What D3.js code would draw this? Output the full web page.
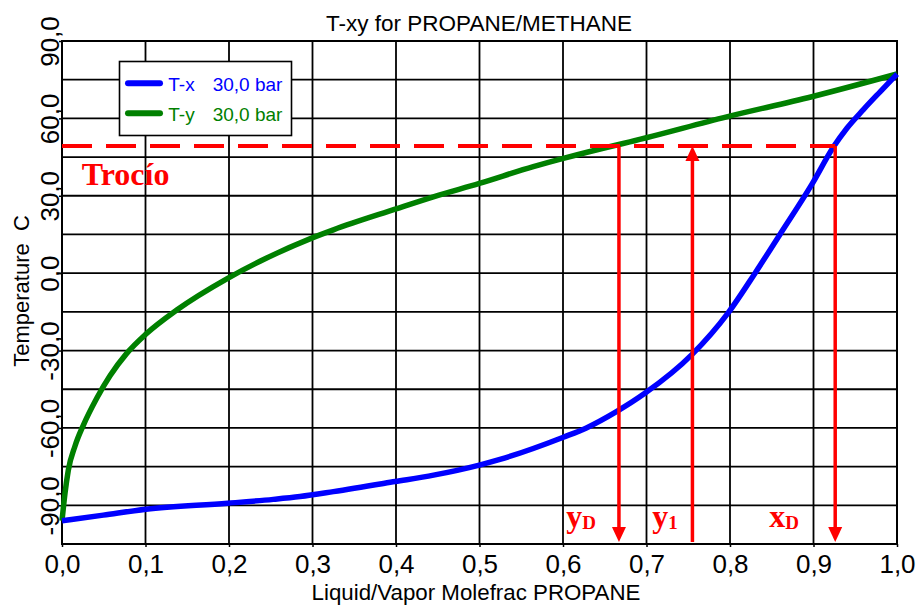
<!DOCTYPE html>
<html>
<head>
<meta charset="utf-8">
<script src="https://cdn.jsdelivr.net/npm/d3@7"></script>
<style>
  html, body { margin: 0; padding: 0; background: #fff; }
  svg { display: block; }
</style>
</head>
<body>
<svg id="chart" width="916" height="605"></svg>
<script>
// ---------- data ----------
const chartTitle = "T-xy for PROPANE/METHANE";
const xAxisTitle = "Liquid/Vapor Molefrac PROPANE";
const yAxisTitle = "Temperature  C";

const xTickValues = [0, 0.1, 0.2, 0.3, 0.4, 0.5, 0.6, 0.7, 0.8, 0.9, 1.0];
const yGridValues = [-105, -90, -75, -60, -45, -30, -15, 0, 15, 30, 45, 60, 75, 90];
const yTickValues = [-90, -60, -30, 0, 30, 60, 90];

// T-x (bubble curve, liquid)
const txX = [0, 0.0495, 0.1006, 0.1984, 0.253, 0.285, 0.325, 0.399, 0.445, 0.4998, 0.5245, 0.6004, 0.628, 0.664, 0.698, 0.754, 0.798, 0.830, 0.860, 0.898, 0.924, 0.94, 0.96, 0.98, 1.0];
const txT = [-96.0, -93.8, -91.5, -89.2, -87.7, -86.6, -84.7, -80.8, -78.3, -74.4, -72.2, -63.6, -60.0, -53.7, -46.6, -31.7, -15.3, 0.0, 15.1, 34.4, 49.0, 56.2, 63.5, 70.4, 77.2];

// T-y (dew curve, vapor)
const tyX = [0, 0.0036, 0.0075, 0.0156, 0.0255, 0.0416, 0.0575, 0.0775, 0.1006, 0.1374, 0.1984, 0.2371, 0.299, 0.325, 0.399, 0.4447, 0.4998, 0.5644, 0.6004, 0.6643, 0.680, 0.796, 0.898, 1.0];
const tyT = [-96.0, -85.3, -76.5, -67.0, -59.0, -48.5, -39.8, -31.1, -23.6, -14.3, -2.0, 4.6, 13.6, 16.8, 24.8, 29.6, 34.8, 41.3, 44.5, 49.7, 50.9, 60.6, 68.4, 77.2];

const legendNames = ["T-x", "T-y"];
const legendPressure = ["30,0 bar", "30,0 bar"];

// annotations (data units)
const dewTemp = 49.3;
const markerX = [0.667, 0.755, 0.926];
const markerDir = ["down", "up", "down"];
const labelMain = ["y", "y", "x"];
const labelSub = ["D", "1", "D"];
const labelX = [0.604, 0.707, 0.847];
const labelT = -98.3;
const dewLabel = "Trocío";
const dewLabelX = 0.0236;
const dewLabelT = 34.2;

// ---------- layout ----------
const svg = d3.select("#chart");
const L = 62, R = 897, T = 41, B = 544;
const x = d3.scaleLinear().domain([0, 1]).range([L, R]);
const y = d3.scaleLinear().domain([-105, 90]).range([B, T]);
const fmt = v => d3.format(".1f")(v).replace(".", ",").replace("−", "-");

const SANS = "'Liberation Sans', Arial, Helvetica, sans-serif";
const SERIF = "'Liberation Serif', 'Times New Roman', Times, serif";
const blue = "#0000ff", green = "#008000", red = "#ff0000";

// grid
const grid = svg.append("g");
grid.selectAll("line.v").data(xTickValues).join("line")
  .attr("x1", d => x(d)).attr("x2", d => x(d))
  .attr("y1", T).attr("y2", B)
  .attr("stroke", "#000").attr("stroke-width", 1.8);
grid.selectAll("line.h").data(yGridValues).join("line")
  .attr("x1", L).attr("x2", R)
  .attr("y1", d => y(d)).attr("y2", d => y(d))
  .attr("stroke", "#000").attr("stroke-width", 1.8);
svg.append("rect").attr("x", L).attr("y", T).attr("width", R - L).attr("height", B - T)
  .attr("fill", "none").attr("stroke", "#000").attr("stroke-width", 2);

// axes
const xAxis = d3.axisBottom(x).tickValues(xTickValues).tickFormat(fmt).tickSize(3).tickPadding(6);
const gx = svg.append("g").attr("transform", `translate(0,${B})`).call(xAxis);
gx.select(".domain").remove();
gx.selectAll(".tick line").attr("stroke", "#000").attr("stroke-width", 1.5);
gx.selectAll(".tick text")
  .style("font-family", SANS).style("font-size", "26px").attr("fill", "#000")
  .attr("dy", null).attr("y", 28.7);

const yAxis = d3.axisLeft(y).tickValues(yTickValues).tickFormat(fmt).tickSize(3);
const gy = svg.append("g").attr("transform", `translate(${L},0)`).call(yAxis);
gy.select(".domain").remove();
gy.selectAll(".tick line").attr("stroke", "#000").attr("stroke-width", 1.5);
gy.selectAll(".tick text")
  .style("font-family", SANS).style("font-size", "26px").attr("fill", "#000")
  .attr("x", null).attr("dy", null)
  .attr("text-anchor", "middle")
  .attr("transform", "translate(-3,0) rotate(-90)");

// titles
svg.append("text").attr("x", 479).attr("y", 31).attr("text-anchor", "middle")
  .style("font-family", SANS).style("font-size", "22.5px").attr("fill", "#000").text(chartTitle);
svg.append("text").attr("x", 476).attr("y", 600).attr("text-anchor", "middle")
  .style("font-family", SANS).style("font-size", "22.3px").attr("fill", "#000").text(xAxisTitle);
svg.append("text").attr("transform", "translate(28.5,291) rotate(-90)")
  .attr("text-anchor", "middle").style("font-family", SANS).style("font-size", "22px").attr("fill", "#000")
  .style("white-space", "pre").text(yAxisTitle);

// curves
const line = d3.line().x(d => x(d[0])).y(d => y(d[1])).curve(d3.curveMonotoneX);
const tyData = tyX.map((v, i) => [v, tyT[i]]);
const txData = txX.map((v, i) => [v, txT[i]]);
svg.append("path").attr("d", line(tyData)).attr("fill", "none")
  .attr("stroke", green).attr("stroke-width", 5.5).attr("stroke-linejoin", "round");
svg.append("path").attr("d", line(txData)).attr("fill", "none")
  .attr("stroke", blue).attr("stroke-width", 5.5).attr("stroke-linejoin", "round");

// annotations
const ann = svg.append("g");
ann.append("line")
  .attr("x1", x(0)).attr("x2", x(markerX[2]))
  .attr("y1", y(dewTemp)).attr("y2", y(dewTemp))
  .attr("stroke", red).attr("stroke-width", 4).attr("stroke-dasharray", "30,14");

const ah = 15, aw = 7;
markerX.forEach((mx, i) => {
  const px = x(mx);
  const top = y(dewTemp), bot = y(-105);
  if (markerDir[i] === "down") {
    ann.append("line").attr("x1", px).attr("x2", px).attr("y1", top).attr("y2", bot - ah + 1)
      .attr("stroke", red).attr("stroke-width", 3.5);
    ann.append("path").attr("d", `M${px - aw},${bot - ah - 2}L${px + aw},${bot - ah - 2}L${px},${bot - 2}Z`)
      .attr("fill", red);
  } else {
    ann.append("line").attr("x1", px).attr("x2", px).attr("y1", top + ah - 1).attr("y2", bot - 2)
      .attr("stroke", red).attr("stroke-width", 3.5);
    ann.append("path").attr("d", `M${px - aw},${top + ah}L${px + aw},${top + ah}L${px},${top}Z`)
      .attr("fill", red);
  }
});

labelMain.forEach((m, i) => {
  const t = ann.append("text").attr("x", x(labelX[i])).attr("y", y(labelT))
    .style("font-family", SERIF).style("font-weight", "bold").style("font-size", "32px")
    .attr("fill", red);
  t.append("tspan").text(m);
  t.append("tspan").style("font-size", "19px").attr("dy", 2.5).text(labelSub[i]);
});

ann.append("text").attr("x", x(dewLabelX)).attr("y", y(dewLabelT))
  .style("font-family", SERIF).style("font-weight", "bold").style("font-size", "32px")
  .attr("fill", red).text(dewLabel);

// legend
const lg = svg.append("g");
lg.append("rect").attr("x", 119.5).attr("y", 61.5).attr("width", 172).attr("height", 74)
  .attr("fill", "#fff").attr("stroke", "#000").attr("stroke-width", 1.6);
const legColors = [blue, green];
legendNames.forEach((n, i) => {
  const cy = 83.3 + i * 30;
  lg.append("line").attr("x1", 128).attr("x2", 160).attr("y1", cy).attr("y2", cy)
    .attr("stroke", legColors[i]).attr("stroke-width", 6).attr("stroke-linecap", "round");
  lg.append("text").attr("x", 168.3).attr("y", cy + 7.2)
    .style("font-family", SANS).style("font-size", "19px")
    .attr("fill", legColors[i]).text(n);
  lg.append("text").attr("x", 212.7).attr("y", cy + 7.2)
    .style("font-family", SANS).style("font-size", "19px")
    .attr("fill", legColors[i]).text(legendPressure[i]);
});
</script>
</body>
</html>
